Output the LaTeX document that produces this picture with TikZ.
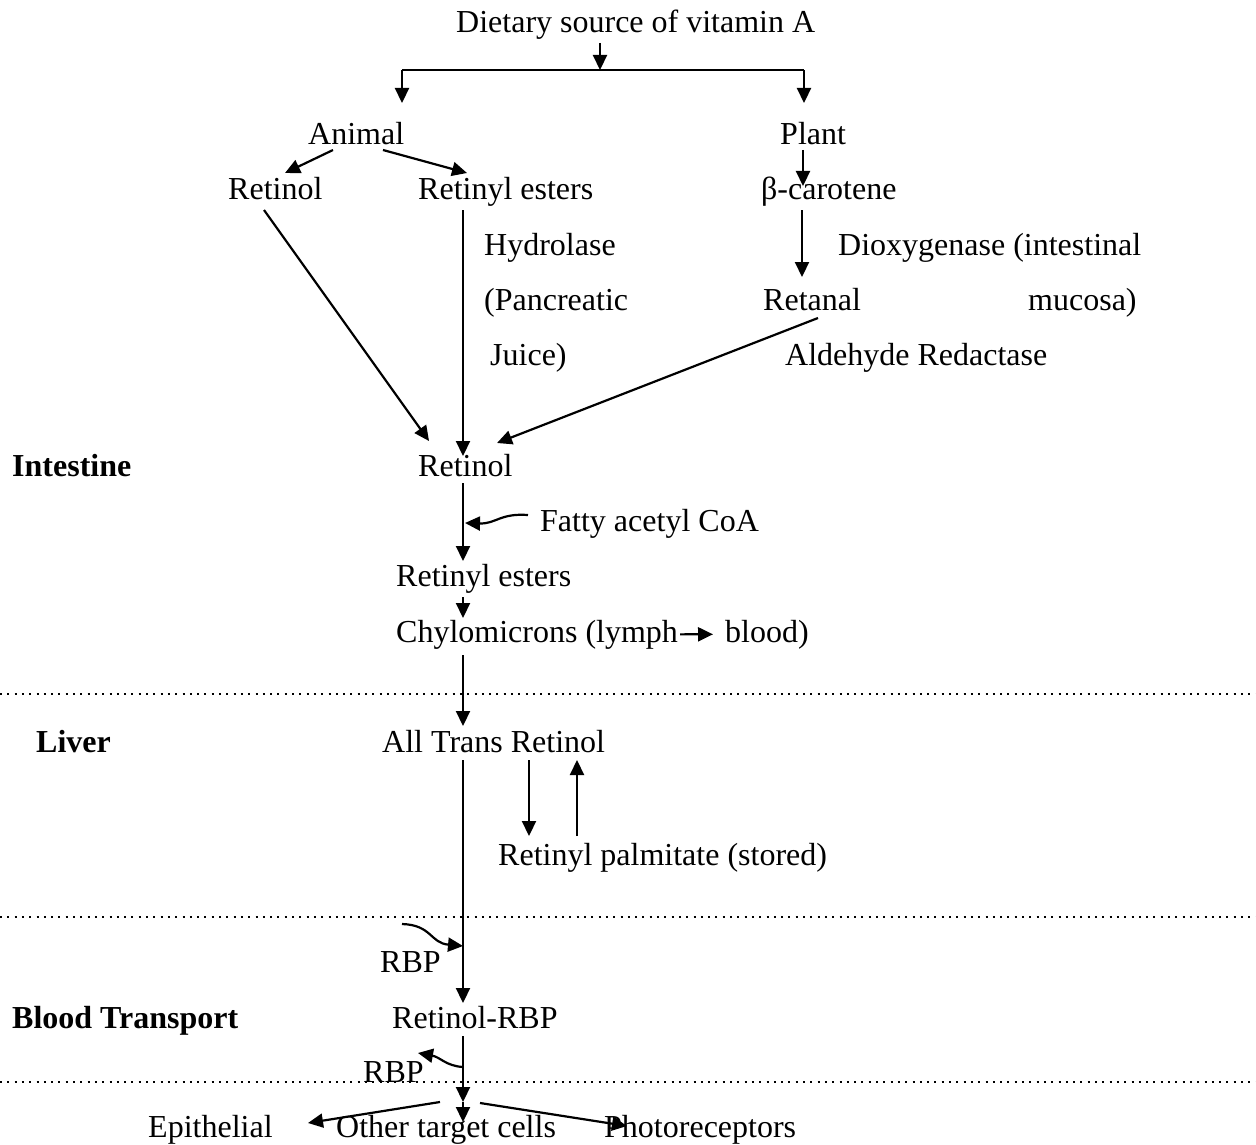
\documentclass[tikz,border=0pt]{standalone}
\usepackage{fontspec}
\setmainfont{Liberation Serif}
\usetikzlibrary{arrows.meta}
\begin{document}
\begin{tikzpicture}[x=1pt,y=-1pt,
 txt/.style={anchor=base west,inner sep=0pt,font=\fontsize{32}{38}\selectfont},
 btxt/.style={anchor=base west,inner sep=0pt,font=\fontsize{32}{38}\selectfont\bfseries},
 arr/.style={line width=2.2pt,-{Triangle[length=15pt,width=14pt]}},
 ln/.style={line width=2.2pt},
 dotline/.style={line width=2pt,dash pattern=on 2pt off 5.3pt}]
\useasboundingbox (0,0) rectangle (1256,1145);
% texts
\node[txt] (diet) at (456,33) {Dietary source of vitamin A};
\node[txt] (animal) at (308,145) {Animal};
\node[txt] (plant) at (780,145) {Plant};
\node[txt] (retinolA) at (228,200) {Retinol};
\node[txt] (esterA) at (418,200) {Retinyl esters};
\node[txt] (beta) at (761,200) {β-carotene};
\node[txt] (hydro) at (484,255) {Hydrolase};
\node[txt] (panc) at (484,310) {(Pancreatic};
\node[txt] (juice) at (490,365) {Juice)};
\node[txt] (diox) at (838,255) {Dioxygenase (intestinal};
\node[txt] (retanal) at (763,310) {Retanal};
\node[txt] (mucosa) at (1028,310) {mucosa)};
\node[txt] (aldeh) at (785,365) {Aldehyde Redactase};
\node[btxt] (intest) at (12,476) {Intestine};
\node[txt] (retinolI) at (418,476) {Retinol};
\node[txt] (fatty) at (540,531) {Fatty acetyl CoA};
\node[txt] (esterI) at (396,586) {Retinyl esters};
\node[txt] (chyloA) at (396,642) {Chylomicrons (lymph};
\node[txt] (chyloB) at (725,642) {blood)};
\node[btxt] (liver) at (36,752) {Liver};
\node[txt] (atr) at (382,752) {All Trans Retinol};
\node[txt] (palm) at (498,865) {Retinyl palmitate (stored)};
\node[txt] (rbp1) at (380,972) {RBP};
\node[btxt] (blood) at (12,1028) {Blood Transport};
\node[txt] (rrbp) at (392,1028) {Retinol-RBP};
\node[txt] (rbp2) at (363,1082) {RBP};
\node[txt] (epi) at (148,1137) {Epithelial};
\node[txt] (other) at (336,1137) {Other target cells};
\node[txt] (photo) at (604,1137) {Photoreceptors};
% coordinates
\coordinate (d0) at (600,43);
\coordinate (split) at (600,70);
\coordinate (bl) at (402,70);
\coordinate (br) at (804,70);
\coordinate (blt) at (402,103);
\coordinate (brt) at (804,103);
\coordinate (an1) at (333,150);
\coordinate (an1t) at (285,173);
\coordinate (an2) at (383,150);
\coordinate (an2t) at (467,173);
\coordinate (pl0) at (803,150);
\coordinate (pl1) at (803,186);
\coordinate (be0) at (802,210);
\coordinate (be1) at (802,277);
\coordinate (ra0) at (264,210);
\coordinate (ra1) at (429,441);
\coordinate (ea0) at (463,210);
\coordinate (ea1) at (463,456);
\coordinate (rt0) at (818,318);
\coordinate (rt1) at (497,443);
\coordinate (ri0) at (463,483);
\coordinate (ri1) at (463,561);
\coordinate (fa0) at (528,515);
\coordinate (fa1) at (465,523);
\coordinate (ei0) at (463,597);
\coordinate (ei1) at (463,618);
\coordinate (ch0) at (463,655);
\coordinate (ch1) at (463,726);
\coordinate (at0) at (463,760);
\coordinate (at1) at (463,1003);
\coordinate (pd0) at (529,760);
\coordinate (pd1) at (529,836);
\coordinate (pu0) at (577,836);
\coordinate (pu1) at (577,760);
\coordinate (r10) at (402,924);
\coordinate (r11) at (463,946);
\coordinate (rr0) at (463,1036);
\coordinate (rr1) at (463,1102);
\coordinate (rr2) at (463,1122);
\coordinate (r20) at (463,1067);
\coordinate (r21) at (418,1053);
\coordinate (el0) at (440,1102);
\coordinate (el1) at (308,1123);
\coordinate (er0) at (480,1103);
\coordinate (er1) at (627,1126);
% dotted separators
\draw[dotline] (0,694) coordinate (s1a) -- (1256,694) coordinate (s1b);
\draw[dotline] (0,917) coordinate (s2a) -- (1256,917) coordinate (s2b);
\draw[dotline] (0,1082) coordinate (s3a) -- (1256,1082) coordinate (s3b);
% connectors
\draw[arr] (d0) -- (split);
\draw[ln] (bl) -- (br);
\draw[arr] (bl) -- (blt);
\draw[arr] (br) -- (brt);
\draw[arr] (an1) -- (an1t);
\draw[arr] (an2) -- (an2t);
\draw[arr] (pl0) -- (pl1);
\draw[arr] (be0) -- (be1);
\draw[arr] (ra0) -- (ra1);
\draw[arr] (ea0) -- (ea1);
\draw[arr] (rt0) -- (rt1);
\draw[arr] (ri0) -- (ri1);
\draw[arr] (fa0) .. controls (500,513) and (496,524) .. (fa1);
\draw[arr] (ei0) -- (ei1);
\draw[arr] ([xshift=2pt]chyloA.east) -- ([xshift=-12pt]chyloB.west);
\draw[arr] (ch0) -- (ch1);
\draw[arr] (at0) -- (at1);
\draw[arr] (pd0) -- (pd1);
\draw[arr] (pu0) -- (pu1);
\draw[arr] (r10) .. controls (432,925) and (430,943) .. (r11);
\draw[arr] (rr0) -- (rr1);
\draw[arr] (rr1) -- (rr2);
\draw[arr] (r20) .. controls (446,1066) and (440,1057) .. (r21);
\draw[arr] (el0) -- (el1);
\draw[arr] (er0) -- (er1);
\end{tikzpicture}
\end{document}
